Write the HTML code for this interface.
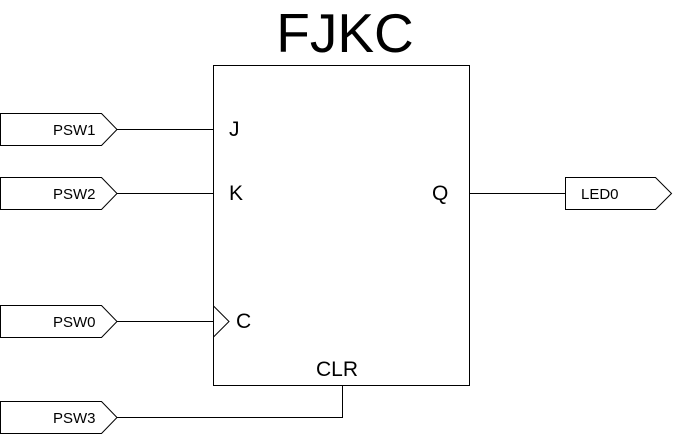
<!DOCTYPE html>
<html><head><style>
html,body{margin:0;padding:0;background:#fff;}
svg{display:block;}
text{font-family:"Liberation Sans",Arial,sans-serif;}
</style></head><body>
<svg width="673" height="435" viewBox="0 0 673 435" xmlns="http://www.w3.org/2000/svg">
<rect x="0" y="0" width="673" height="435" fill="#fff"/>
<text x="345" y="52" font-size="55" text-anchor="middle" fill="#000">FJKC</text>
<g stroke="#000" stroke-width="1" fill="none" shape-rendering="crispEdges">
<rect x="213.5" y="65.5" width="256" height="320"/>
<line x1="117" y1="129.5" x2="213" y2="129.5"/>
<line x1="117" y1="193.5" x2="213" y2="193.5"/>
<line x1="117" y1="321.5" x2="213" y2="321.5"/>
<line x1="117" y1="417.5" x2="342" y2="417.5"/>
<line x1="342.5" y1="386" x2="342.5" y2="418"/>
<line x1="470" y1="193.5" x2="566" y2="193.5"/>
</g>
<g stroke="#000" stroke-width="1" fill="#fff">
<polygon points="0.5,113.5 101.5,113.5 117,129.5 101.5,145.5 0.5,145.5"/>
<polygon points="0.5,177.5 101.5,177.5 117,193.5 101.5,209.5 0.5,209.5"/>
<polygon points="0.5,305.5 101.5,305.5 117,321.5 101.5,337.5 0.5,337.5"/>
<polygon points="0.5,401.5 101.5,401.5 117,417.5 101.5,433.5 0.5,433.5"/>
<polygon points="565.5,177.5 655.5,177.5 671.5,193.5 655.5,209.5 565.5,209.5"/>
</g>
<polyline points="213.5,306 229,321.5 213.5,337" stroke="#000" stroke-width="1" fill="none"/>
<g font-size="15" fill="#000">
<text x="53" y="135">PSW1</text>
<text x="53" y="199">PSW2</text>
<text x="53" y="327">PSW0</text>
<text x="53" y="423">PSW3</text>
<text x="581" y="199">LED0</text>
</g>
<g font-size="21" fill="#000">
<text x="229" y="136">J</text>
<text x="229" y="200">K</text>
<text x="236" y="328">C</text>
<text x="432" y="200">Q</text>
<text x="316" y="376">CLR</text>
</g>
</svg>
</body></html>
